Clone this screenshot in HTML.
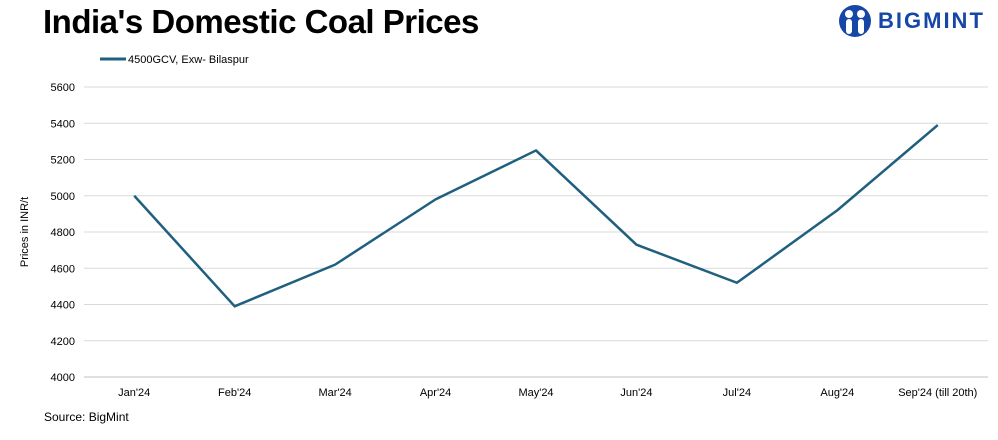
<!DOCTYPE html>
<html><head><meta charset="utf-8"><style>
body{margin:0;width:998px;height:440px;background:#fff;font-family:"Liberation Sans",sans-serif;overflow:hidden;position:relative}
.t{position:absolute}
</style></head><body>
<div class="t" style="left:43px;top:3px;font-size:33px;font-weight:bold;letter-spacing:-0.5px;color:#000">India's Domestic Coal Prices</div>
<div class="t" style="left:838px;top:4px;height:34px;display:flex;align-items:center">
<svg width="34" height="34" viewBox="0 0 34 34"><circle cx="17" cy="17" r="16" fill="#1747a6"/><circle cx="11" cy="10" r="4" fill="#fff"/><circle cx="23" cy="10" r="4" fill="#fff"/><rect x="8" y="15" width="6" height="15" rx="3" fill="#fff"/><rect x="20" y="15" width="6" height="15" rx="3" fill="#fff"/><rect x="15" y="12" width="4" height="18" fill="#1747a6"/></svg>
<span style="margin-left:6px;font-size:22px;font-weight:bold;color:#1747a6;letter-spacing:2px">BIGMINT</span></div>
<div class="t" style="left:44px;top:410px;font-size:12px;color:#000">Source: BigMint</div>
<svg id="c" class="t" style="left:0;top:0" width="998" height="440"></svg>
<script>
const categories=["Jan'24","Feb'24","Mar'24","Apr'24","May'24","Jun'24","Jul'24","Aug'24","Sep'24 (till 20th)"];
const prices=[5000,4390,4620,4980,5250,4730,4520,4920,5390];
const yTicks=[4000,4200,4400,4600,4800,5000,5200,5400,5600];
const seriesName="4500GCV, Exw- Bilaspur";
const svg=document.getElementById('c');const NS="http://www.w3.org/2000/svg";
const x0=84,x1=988,yB=377,yT=87,vMin=4000,vMax=5600;
const step=(x1-x0)/categories.length;
const X=i=>x0+step*(i+0.5);const Y=v=>yB-(v-vMin)/(vMax-vMin)*(yB-yT);
function mk(t,a){const e=document.createElementNS(NS,t);for(const k in a)e.setAttribute(k,a[k]);svg.appendChild(e);return e;}
yTicks.forEach(v=>{const g=mk('line',{x1:x0,x2:x1,y1:Y(v),y2:Y(v),stroke:v===vMin?'#bfbfbf':'#d9d9d9','stroke-width':1});


const t=mk('text',{x:75,y:Y(v)+4,'text-anchor':'end','font-size':11,fill:'#000'});t.textContent=v;

});
categories.forEach((c,i)=>{const t=mk('text',{x:X(i),y:396,'text-anchor':'middle','font-size':11,fill:'#000'});t.textContent=c;

});
const yt=mk('text',{x:28,y:232,'text-anchor':'middle','font-size':11,fill:'#000',transform:'rotate(-90 28 232)'});yt.textContent='Prices in INR/t';


const p=mk('polyline',{points:prices.map((v,i)=>X(i)+','+Y(v)).join(' '),fill:'none',stroke:'#1f5f7f','stroke-width':2.5,'stroke-linejoin':'round'});


const ll=mk('line',{x1:100,x2:126,y1:59,y2:59,stroke:'#1f5f7f','stroke-width':3});


const lt=mk('text',{x:128,y:63,'font-size':11,fill:'#000'});lt.textContent=seriesName;


</script>
</body></html>
